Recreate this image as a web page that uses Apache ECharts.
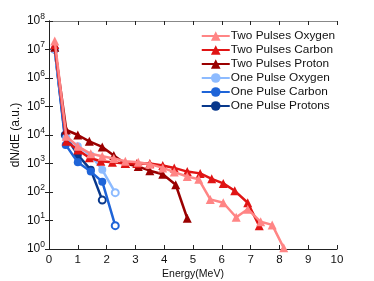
<!DOCTYPE html>
<html><head><meta charset="utf-8">
<script src="https://cdn.jsdelivr.net/npm/echarts@6/dist/echarts.min.js"></script>
<style>html,body{margin:0;padding:0;background:#fff}#c{width:374px;height:281px}</style>
</head><body><div id="c"></div>
<script>
const seriesNames = ['Two Pulses Oxygen','Two Pulses Carbon','Two Pulses Proton','One Pulse Oxygen','One Pulse Carbon','One Pulse Protons'];
const twoOxyE = [0.2,0.6,1.0,1.45,1.85,2.25,2.65,3.1,3.5,3.95,4.35,4.8,5.2,5.6,6.05,6.5,6.9,7.35,7.75,8.15];
const twoOxyV = [2e7,9e3,4e3,2.2e3,1.8e3,1.5e3,1.2e3,1.1e3,950,700,500,350,280,55,42,13,25,9,7,1.1];
const twoCarE = [0.2,0.6,1.0,1.4,1.8,2.2,2.65,3.05,3.5,3.95,4.35,4.8,5.25,5.65,6.05,6.45,6.9,7.3];
const twoCarV = [1.5e7,6e3,3e3,1.6e3,1.2e3,1.1e3,1.0e3,1.0e3,1.0e3,850,700,520,450,290,200,110,42,6.5];
const twoProE = [0.2,0.6,1.0,1.4,1.85,2.25,2.65,3.1,3.5,3.95,4.4,4.8];
const twoProV = [1.2e7,1.5e4,1.0e4,6e3,3.8e3,1.9e3,1.0e3,780,560,420,180,12];
const oneOxyE = [0.2,0.6,1.0,1.45,1.85,2.3];
const oneOxyV = [1e7,8e3,4e3,1.9e3,600,95];
const oneCarE = [0.2,0.58,1.0,1.45,1.85,2.3];
const oneCarV = [1e7,4.5e3,1.1e3,520,230,6.6];
const oneProE = [0.2,0.55,1.0,1.45,1.85];
const oneProV = [1e7,1e4,2e3,600,52];
const xTicks = [0,1,2,3,4,5,6,7,8,9,10];

const colors = ['#FF8585','#E01414','#9A0000','#8DBBFF','#1E64D8','#08388C'];
const sets = [[twoOxyE,twoOxyV],[twoCarE,twoCarV],[twoProE,twoProV],[oneOxyE,oneOxyV],[oneCarE,oneCarV],[oneProE,oneProV]];

function mk(i){
  const [E,V] = sets[i];
  const tri = i < 3;
  const data = E.map((e,k)=>{
    const item = {value:[e,V[k]]};
    if(!tri && k===E.length-1){ item.symbol='emptyCircle'; item.symbolSize=7; item.itemStyle={borderWidth:2}; }
    return item;
  });
  return {
    name: seriesNames[i], type:'line', data, xAxisIndex:0, yAxisIndex:0,
    symbol: tri ? 'triangle' : 'circle', symbolSize: tri ? 9 : 8, showAllSymbol:true,
    lineStyle:{width:2.5,color:colors[i]}, itemStyle:{color:colors[i]},
    z: 10 - i, animation:false
  };
}
const series = [2,1,0,5,4,3].map(mk);

const chart = echarts.init(document.getElementById('c'));
const ff = '"Liberation Sans", Arial, sans-serif';
chart.setOption({
  animation:false,
  textStyle:{fontFamily:ff},
  grid:{left:49,right:37,top:21,bottom:32,containLabel:false,outerBoundsMode:'none'},
  legend:{
    data: seriesNames,
    orient:'vertical', right:34, top:25, itemGap:2, itemWidth:28, itemHeight:12,
    textStyle:{fontSize:11.8, color:'#111', fontFamily:ff, padding:[0,0,0,-4]}
  },
  xAxis:[{
    type:'value', min:0, max:10, interval:1,
    name:'Energy(MeV)', nameLocation:'middle', nameGap:20, nameMoveOverlap:false,
    nameTextStyle:{fontSize:10.5,color:'#111'},
    axisLine:{lineStyle:{color:'#222'}}, axisTick:{inside:true,length:4,lineStyle:{color:'#222'}},
    axisLabel:{fontSize:11.5,color:'#111',margin:5}, splitLine:{show:false}
  },{
    type:'value', min:0, max:10, interval:1, position:'top',
    axisLine:{lineStyle:{color:'#888'}}, axisTick:{inside:true,length:4,lineStyle:{color:'#222'}},
    axisLabel:{show:false}, splitLine:{show:false}
  }],
  yAxis:[{
    type:'log', logBase:10, min:1, max:1e8,
    name:'dN/dE (a.u.)', nameLocation:'middle', nameGap:27, nameRotate:90, nameMoveOverlap:false,
    nameTextStyle:{fontSize:12,color:'#111'},
    axisLine:{lineStyle:{color:'#222'}}, axisTick:{inside:true,length:4,lineStyle:{color:'#222'}},
    axisLabel:{margin:4, formatter:function(v){return '{b|10}{s|'+Math.round(Math.log10(v))+'}';},
      rich:{b:{fontSize:12,color:'#111'},s:{fontSize:8.5,color:'#111',verticalAlign:'top',padding:[0,0,9,0]}}},
    splitLine:{show:false}
  },{
    type:'log', logBase:10, min:1, max:1e8, position:'right',
    axisLine:{lineStyle:{color:'#222'}}, axisTick:{inside:true,length:4,lineStyle:{color:'#222'}},
    axisLabel:{show:false}, splitLine:{show:false}
  }],
  series
});
</script></body></html>
